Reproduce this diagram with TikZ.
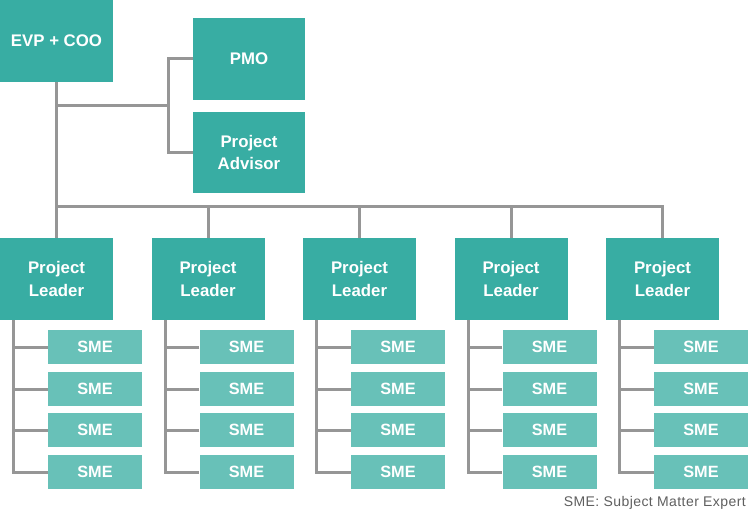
\documentclass[tikz,border=0pt]{standalone}
\usepackage{fontspec}
\setmainfont{Liberation Sans}
\usepackage{tikz}
\usetikzlibrary{calc}
\usepackage{xcolor}
\definecolor{tealbox}{RGB}{56,173,163}
\definecolor{tealsme}{RGB}{104,193,184}
\definecolor{linegray}{RGB}{150,150,150}
\definecolor{textgray}{RGB}{95,95,95}
\tikzset{
    cargo/.style={fill=tealbox, text=white, inner sep=0pt, align=center,
        minimum width=113pt, minimum height=82pt,
        font=\bfseries\fontsize{16.8}{22.5}\selectfont},
    smebox/.style={fill=tealsme, text=white, inner sep=0pt,
        minimum width=94pt, minimum height=34pt,
        font=\bfseries\fontsize{16.3}{18}\selectfont},
    ligacao/.style={draw=linegray, line width=3pt},
    legenda/.style={text=textgray, inner sep=0pt,
        font=\addfontfeature{LetterSpace=3}\fontsize{14}{16}\selectfont}
}

\begin{document}
\begin{tikzpicture}[x=1pt, y=-1pt]
    \useasboundingbox (0,0) rectangle (748,511);
    % topo
    \node[cargo] (evp) at (56.5,41) {EVP + COO};
    \node[cargo, minimum width=112pt] (pmo) at (249,59) {PMO};
    \node[cargo, minimum width=112pt, minimum height=81pt] (advisor) at (249,152.5) {Project\\Advisor};
    \coordinate (ramo) at (168,106);
    \coordinate (barra) at (0,206);
    % lideres e SMEs
    \foreach \i in {1,...,5} {
        \node[cargo] (lider\i) at ({56.5+151.5*(\i-1)},279) {Project\\Leader};
        \coordinate (tronco\i) at ([xshift=14pt]lider\i.south west);
        \foreach \j/\y in {1/347,2/389,3/430,4/472}
            \node[smebox] (sme\i\j) at ({95+151.5*(\i-1)},\y) {SME};
    }
    % ligacoes
    \draw[ligacao] (evp.south) -- (lider1.north);
    \draw[ligacao] (evp.south |- ramo) -- (ramo);
    \draw[ligacao] (pmo.west) -| (ramo) |- (advisor.west);
    \draw[ligacao] (lider1.north |- barra) -| (lider5.north);
    \foreach \i in {2,3,4}
        \draw[ligacao] (lider\i.north |- barra) -- (lider\i.north);
    \foreach \i in {1,...,5} {
        \draw[ligacao] (tronco\i) |- (sme\i4.west);
        \foreach \j in {1,2,3}
            \draw[ligacao] (sme\i\j.west) -- (sme\i\j.west -| tronco\i);
    }
    \node[legenda, anchor=base east] (nota) at (746,506) {SME: Subject Matter Expert};
\end{tikzpicture}
\end{document}
